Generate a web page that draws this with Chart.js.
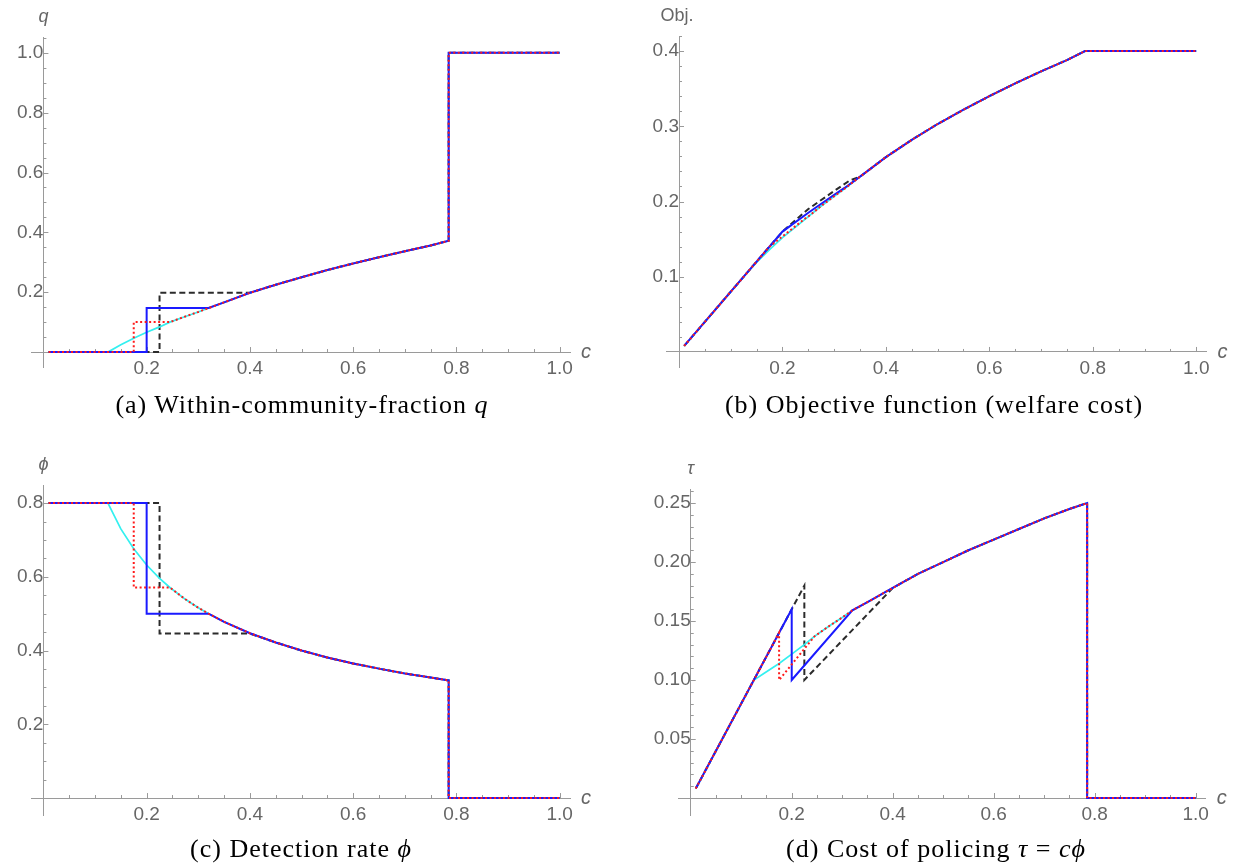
<!DOCTYPE html>
<html>
<head>
<meta charset="utf-8">
<script src="https://cdn.jsdelivr.net/npm/chart.js@4.4.1/dist/chart.umd.min.js"></script>
<style>
  body { margin: 0; background: #fff; width: 1235px; height: 867px; position: relative; overflow: hidden; }
  canvas { position: absolute; }
  .cap { position: absolute; font-family: "Liberation Serif", "DejaVu Serif", serif; font-size: 26px; letter-spacing: 1px; color: #000; white-space: nowrap; transform: translate(-50%, -50%); }
  .cap i { font-style: italic; }
</style>
</head>
<body>
<canvas id="qChart" width="617" height="430" style="left:0;top:0"></canvas>
<canvas id="objChart" width="618" height="430" style="left:617px;top:0"></canvas>
<canvas id="phiChart" width="617" height="437" style="left:0;top:430px"></canvas>
<canvas id="tauChart" width="618" height="437" style="left:617px;top:430px"></canvas>
<div class="cap" style="left:302px;top:405px">(a) Within-community-fraction <i>q</i></div>
<div class="cap" style="left:934px;top:405px">(b) Objective function (welfare cost)</div>
<div class="cap" style="left:301px;top:849px">(c) Detection rate <i>ϕ</i></div>
<div class="cap" style="left:936px;top:849px">(d) Cost of policing <i>τ</i> = <i>cϕ</i></div>
<script>
// tick labels
const cTicks = [0.2, 0.4, 0.6, 0.8, 1.0];
const qTicks = [0.2, 0.4, 0.6, 0.8, 1.0];
const objTicks = [0.1, 0.2, 0.3, 0.4];
const phiTicks = [0.2, 0.4, 0.6, 0.8];
const tauTicks = [0.05, 0.10, 0.15, 0.20, 0.25];

// (a) within-community fraction q   -- [c, value]
const qCurve = [[0.125,0],[0.15,0.024],[0.175,0.046],[0.2,0.066],[0.225,0.084],[0.245,0.1],[0.275,0.119],[0.3,0.134],[0.32,0.147],[0.35,0.166],[0.4,0.198],[0.45,0.225],[0.5,0.25],[0.55,0.274],[0.6,0.296],[0.65,0.317],[0.7,0.337],[0.75,0.356],[0.785,0.372]];
const qCyanHead = [[0.01,0]];
const qBlueHead = [[0.01,0],[0.2,0],[0.2,0.147],[0.32,0.147]];
const qRedHead = [[0.01,0],[0.175,0],[0.175,0.1],[0.245,0.1]];
const qBlackHead = [[0.01,0],[0.225,0],[0.225,0.198],[0.4,0.198]];
const qTail = [[0.785,1],[1,1]];

// (b) objective
const objCurve = [[0.125,0.1],[0.15,0.119],[0.175,0.136],[0.2,0.152],[0.225,0.166],[0.25,0.18],[0.275,0.194],[0.3,0.207],[0.32,0.217],[0.35,0.233],[0.4,0.259],[0.45,0.282],[0.5,0.303],[0.55,0.322],[0.6,0.34],[0.65,0.357],[0.7,0.373],[0.75,0.388],[0.785,0.4]];
const objCyanHead = [[0.01,0.008]];
const objBlueHead = [[0.01,0.008],[0.2,0.16],[0.25,0.185],[0.3,0.209],[0.32,0.218]];
const objRedHead = [[0.01,0.008],[0.175,0.14],[0.21,0.159],[0.245,0.178]];
const objBlackHead = [[0.01,0.008],[0.2,0.16],[0.25,0.19],[0.3,0.214],[0.33,0.228]];
const objTail = [[1,0.4]];

// (c) detection rate phi
const phiCurve = [[0.125,0.8],[0.15,0.73],[0.175,0.676],[0.2,0.632],[0.225,0.596],[0.245,0.571],[0.275,0.539],[0.3,0.516],[0.32,0.5],[0.35,0.478],[0.4,0.447],[0.45,0.422],[0.5,0.4],[0.55,0.381],[0.6,0.365],[0.65,0.351],[0.7,0.338],[0.75,0.327],[0.785,0.319]];
const phiCyanHead = [[0.01,0.8]];
const phiBlueHead = [[0.01,0.8],[0.2,0.8],[0.2,0.5],[0.32,0.5]];
const phiRedHead = [[0.01,0.8],[0.175,0.8],[0.175,0.571],[0.245,0.571]];
const phiBlackHead = [[0.01,0.8],[0.225,0.8],[0.225,0.446],[0.4,0.446]];
const phiTail = [[0.785,0],[1,0]];

// (d) cost of policing tau
const tauCurve = [[0.125,0.1],[0.15,0.107],[0.175,0.114],[0.2,0.122],[0.225,0.13],[0.245,0.137],[0.275,0.146],[0.3,0.153],[0.32,0.159],[0.35,0.166],[0.4,0.178],[0.45,0.19],[0.5,0.2],[0.55,0.21],[0.6,0.219],[0.65,0.228],[0.7,0.237],[0.75,0.245],[0.785,0.25]];
const tauCyanHead = [[0.01,0.008]];
const tauBlueHead = [[0.01,0.008],[0.2,0.16],[0.2,0.1],[0.32,0.159]];
const tauRedHead = [[0.01,0.008],[0.175,0.14],[0.175,0.1],[0.245,0.137]];
const tauBlackHead = [[0.01,0.008],[0.225,0.18],[0.225,0.1],[0.4,0.178]];
const tauTail = [[0.785,0],[1,0]];

// head + rest of the common curve + tail
function path(head, curve, tail) {
    const last = head[head.length - 1][0];
    return head.concat(curve.filter(p => p[0] > last)).concat(tail).map(p => ({x: p[0], y: p[1]}));
}

const axisGray = '#9a9a9a';
const labelGray = '#666';
const sans = '"Liberation Sans", Arial, sans-serif';

const tickMarks = {
    id: 'tickMarks',
    beforeDatasetsDraw(chart, args, o) {
        const {ctx, scales: {x, y}} = chart;
        const x0 = x.getPixelForValue(0), y0 = y.getPixelForValue(0);
        ctx.save();
        ctx.strokeStyle = axisGray;
        ctx.lineWidth = 1;
        ctx.beginPath();
        for (let i = 1; i * o.xMinor <= x.max; i++) {
            const px = Math.round(x.getPixelForValue(i * o.xMinor)) + 0.5;
            const len = i % o.xEvery === 0 ? 5 : 3;
            ctx.moveTo(px, y0); ctx.lineTo(px, y0 - len);
        }
        for (let i = 1; i * o.yMinor <= y.max; i++) {
            const py = Math.round(y.getPixelForValue(i * o.yMinor)) + 0.5;
            const len = i % o.yEvery === 0 ? 5 : 3;
            ctx.moveTo(x0, py); ctx.lineTo(x0 + len, py);
        }
        ctx.stroke();
        ctx.restore();
    },
    afterDraw(chart, args, o) {
        const {ctx, chartArea, scales: {x, y}} = chart;
        ctx.save();
        ctx.fillStyle = labelGray;
        ctx.textAlign = 'center';
        ctx.textBaseline = 'middle';
        ctx.font = 'italic 20px ' + sans;
        ctx.fillText('c', chartArea.right + 16, y.getPixelForValue(0));
        ctx.font = (o.nameItalic ? 'italic ' : '') + '18px ' + sans;
        ctx.fillText(o.name, x.getPixelForValue(0) + (o.nameDx || 0), chartArea.top - 20);
        ctx.restore();
    }
};

function makePanel(id, opt) {
    const lineBase = {showLine: true, pointRadius: 0, pointHoverRadius: 0, tension: 0, fill: false};
    new Chart(document.getElementById(id), {
        type: 'scatter',
        data: {
            datasets: [
                {...lineBase, label: 'red', data: opt.red, borderColor: '#ff1a1a', borderWidth: 2, borderDash: [2, 2.5]},
                {...lineBase, label: 'blue', data: opt.blue, borderColor: '#1a1aff', borderWidth: 2},
                {...lineBase, label: 'cyan', data: opt.cyan, borderColor: '#33f0f0', borderWidth: 1.7},
                {...lineBase, label: 'black', data: opt.black, borderColor: '#2b2b2b', borderWidth: 2, borderDash: [6, 3.5]}
            ]
        },
        plugins: [tickMarks],
        options: {
            responsive: false,
            animation: false,
            events: [],
            layout: {padding: opt.pad},
            plugins: {
                legend: {display: false},
                tooltip: {enabled: false},
                tickMarks: opt.marks
            },
            scales: {
                x: {
                    type: 'linear',
                    min: -0.024, max: 1.02,
                    position: {y: 0},
                    grid: {display: false, drawTicks: false},
                    border: {color: axisGray, width: 1},
                    afterBuildTicks: s => { s.ticks = cTicks.map(v => ({value: v})); },
                    ticks: {
                        padding: 5, color: labelGray, maxRotation: 0,
                        font: {family: sans, size: 19},
                        callback: v => v.toFixed(1)
                    }
                },
                y: {
                    type: 'linear',
                    min: opt.yMin, max: opt.yMax,
                    position: {x: 0},
                    grid: {display: false, drawTicks: false},
                    border: {color: axisGray, width: 1},
                    afterBuildTicks: s => { s.ticks = opt.yTicks.map(v => ({value: v})); },
                    ticks: {
                        padding: 5, color: labelGray,
                        font: {family: sans, size: 19},
                        callback: v => v.toFixed(opt.dec)
                    }
                }
            }
        }
    });
}

makePanel('qChart', {
    red: path(qRedHead, qCurve, qTail), blue: path(qBlueHead, qCurve, qTail),
    cyan: path(qCyanHead, qCurve, qTail), black: path(qBlackHead, qCurve, qTail),
    yMin: -0.05, yMax: 1.053, yTicks: qTicks, dec: 1,
    pad: {left: 31, right: 47, top: 37, bottom: 63},
    marks: {xMinor: 0.05, xEvery: 4, yMinor: 0.05, yEvery: 4, name: 'q', nameItalic: true}
});
makePanel('objChart', {
    red: path(objRedHead, objCurve, objTail), blue: path(objBlueHead, objCurve, objTail),
    cyan: path(objCyanHead, objCurve, objTail), black: path(objBlackHead, objCurve, objTail),
    yMin: -0.02, yMax: 0.42, yTicks: objTicks, dec: 1,
    pad: {left: 49.6, right: 28.4, top: 36, bottom: 63},
    marks: {xMinor: 0.05, xEvery: 4, yMinor: 0.02, yEvery: 5, name: 'Obj.', nameItalic: false, nameDx: -2}
});
makePanel('phiChart', {
    red: path(phiRedHead, phiCurve, phiTail), blue: path(phiBlueHead, phiCurve, phiTail),
    cyan: path(phiCyanHead, phiCurve, phiTail), black: path(phiBlackHead, phiCurve, phiTail),
    yMin: -0.046, yMax: 0.849, yTicks: phiTicks, dec: 1,
    pad: {left: 31, right: 47, top: 55, bottom: 52},
    marks: {xMinor: 0.05, xEvery: 4, yMinor: 0.05, yEvery: 4, name: 'ϕ', nameItalic: true}
});
makePanel('tauChart', {
    red: path(tauRedHead, tauCurve, tauTail), blue: path(tauBlueHead, tauCurve, tauTail),
    cyan: path(tauCyanHead, tauCurve, tauTail), black: path(tauBlackHead, tauCurve, tauTail),
    yMin: -0.0144, yMax: 0.2619, yTicks: tauTicks, dec: 2,
    pad: {left: 61.6, right: 29.2, top: 59, bottom: 52},
    marks: {xMinor: 0.05, xEvery: 4, yMinor: 0.01, yEvery: 5, name: 'τ', nameItalic: true}
});
</script>
</body>
</html>
